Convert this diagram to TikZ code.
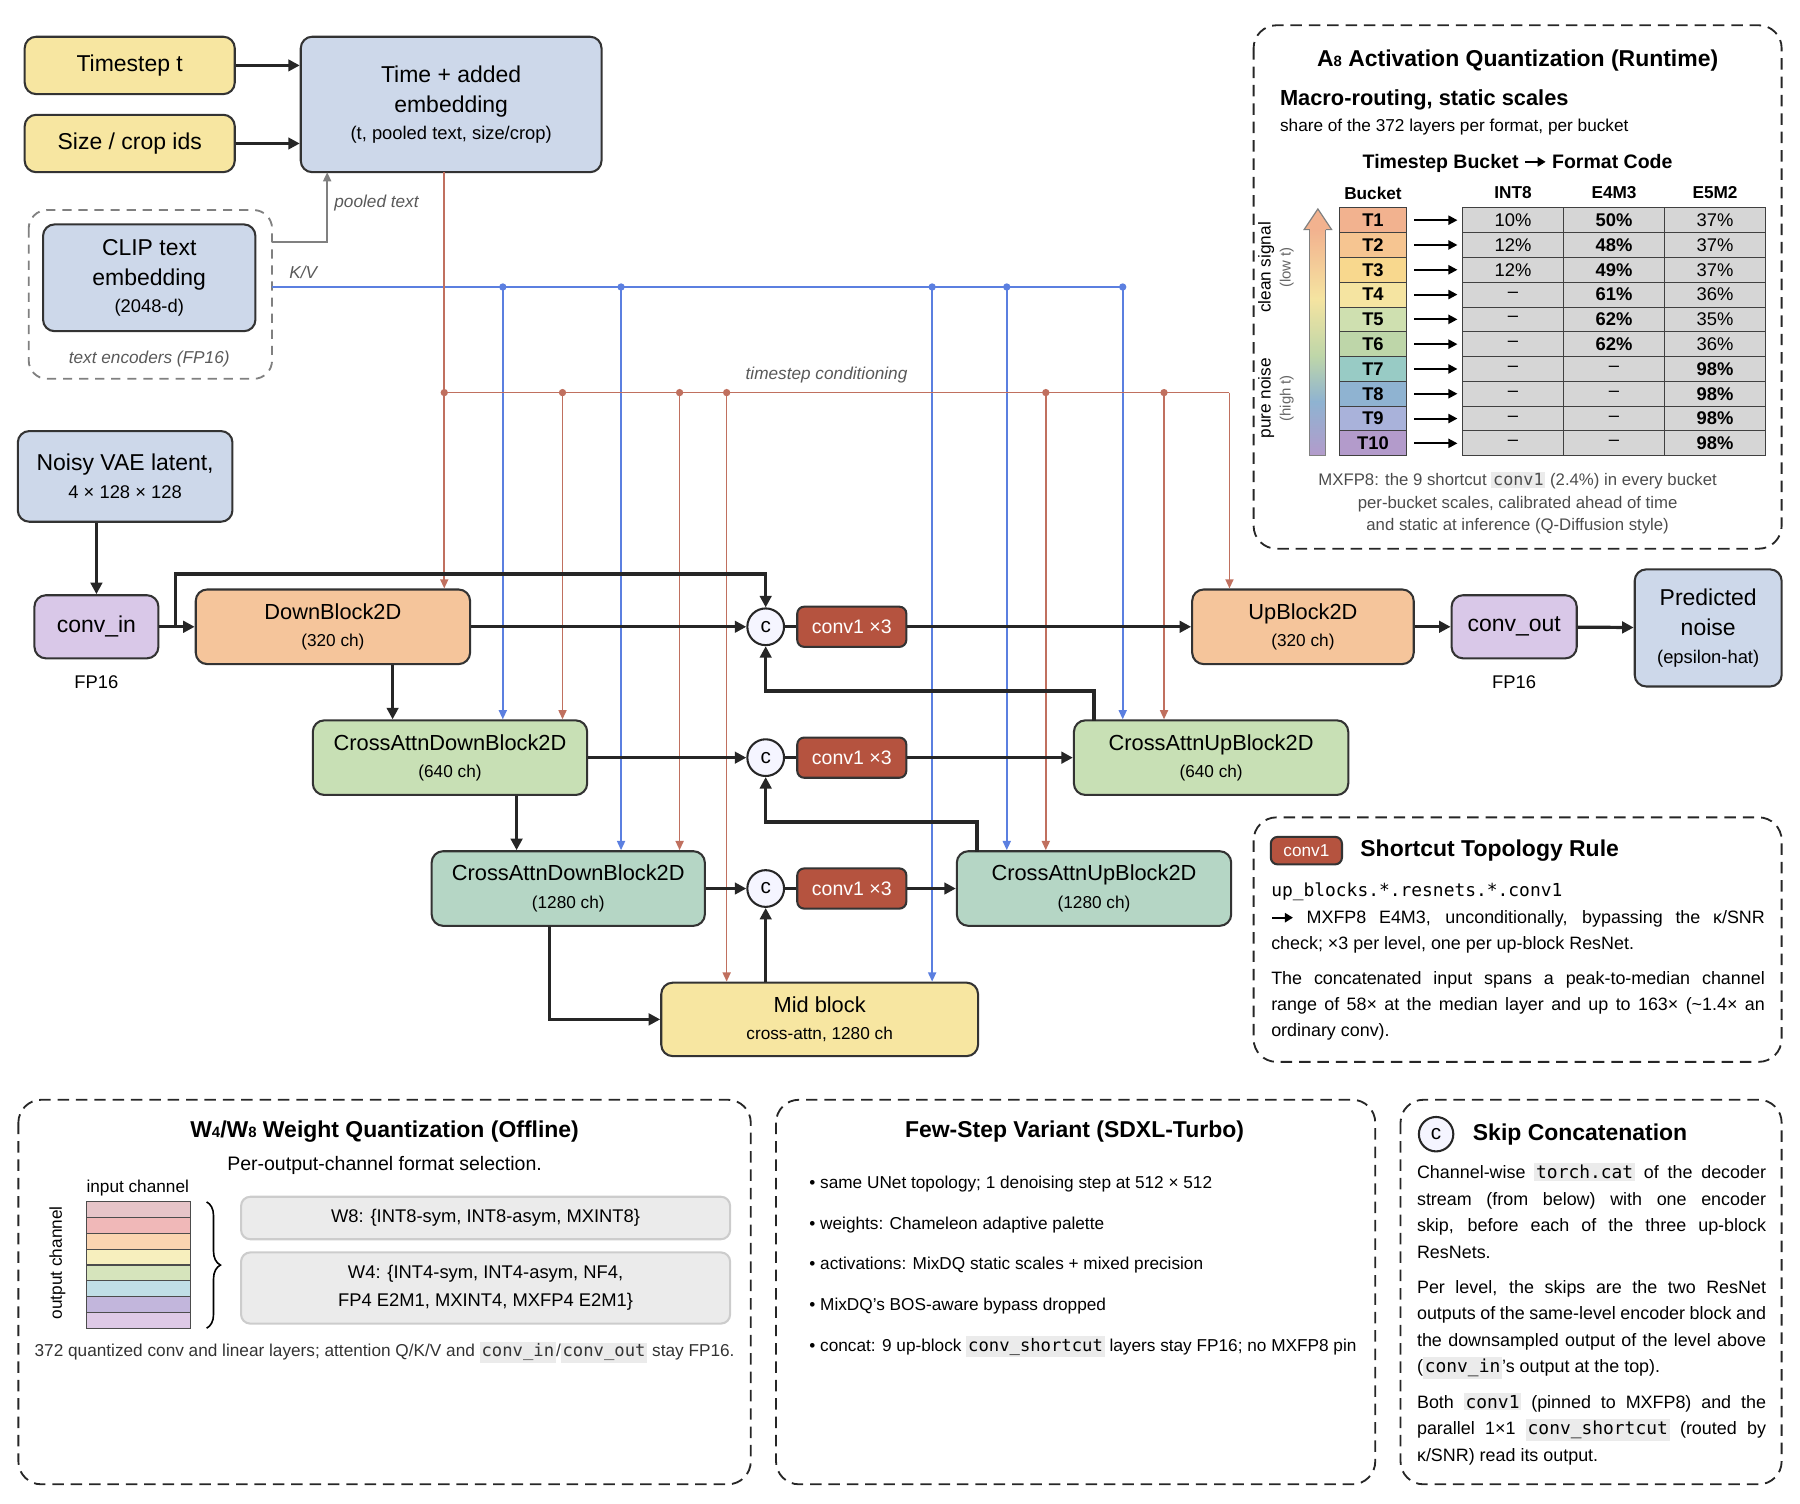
\documentclass[tikz,border=0pt]{standalone}
\usepackage{fontspec}
\setmainfont{Liberation Sans}
\setmonofont{DejaVu Sans Mono}
\usetikzlibrary{arrows.meta,decorations.pathreplacing}
\definecolor{yel}{HTML}{F7E6A1}
\definecolor{blu}{HTML}{CDD8EA}
\definecolor{pur}{HTML}{D9C8E8}
\definecolor{ora}{HTML}{F5C59B}
\definecolor{grn}{HTML}{C8E0B5}
\definecolor{tea}{HTML}{B5D6C5}
\definecolor{cred}{HTML}{B5533F}
\definecolor{tline}{HTML}{C0705F}
\definecolor{kline}{HTML}{5B7FE0}
\definecolor{t1}{HTML}{F2B28F}\definecolor{t2}{HTML}{F6C591}\definecolor{t3}{HTML}{F8D88E}
\definecolor{t4}{HTML}{F5E4A1}\definecolor{t5}{HTML}{CFE0B0}\definecolor{t6}{HTML}{BED6A9}
\definecolor{t7}{HTML}{98CBC5}\definecolor{t8}{HTML}{8FB3D1}\definecolor{t9}{HTML}{A9B2DA}
\definecolor{t10}{HTML}{B39BCB}
\newcommand\cd[1]{{\setlength{\fboxsep}{0.8pt}\colorbox{black!8}{\ttfamily #1}}}
\newcommand\rarr{\tikz[baseline=-0.6ex]\draw[line width=0.9pt,-{Triangle[length=3.5pt,width=4pt]}] (0,0) -- (9pt,0);}
\hyphenpenalty=10000 \exhyphenpenalty=10000
\begin{document}
\begin{tikzpicture}[x=0.5pt,y=-0.5pt,
 box/.style={draw=black!80,line width=0.9pt,rounded corners=5pt,align=center,inner sep=0pt},
 fa/.style={font=\fontsize{9.5}{13}\selectfont},
 fs/.style={font=\fontsize{7.5}{11}\selectfont},
 fl/.style={font=\fontsize{10}{13}\selectfont},
 blk/.style={line width=1.4pt,draw=black!85,-{Triangle[length=5pt,width=5pt]}},
 bln/.style={line width=1.4pt,draw=black!85},
 tl/.style={draw=tline,line width=0.7pt,-{Triangle[length=4pt,width=3.5pt]}},
 kl/.style={draw=kline,line width=0.7pt,-{Triangle[length=4pt,width=3.5pt]}},
 cc/.style={circle,draw=black!85,line width=0.9pt,fill=blue!4,minimum size=16pt,inner sep=0pt,font=\fontsize{9}{9}\selectfont},
 cv/.style={box,rounded corners=3pt,fill=cred,text=white,minimum width=47.5pt,minimum height=17.5pt,font=\fontsize{8.5}{10}\selectfont},
 pan/.style={draw=black!85,line width=0.8pt,dash pattern=on 5pt off 3pt,rounded corners=10pt},
 it/.style={font=\fontsize{7.5}{9}\selectfont\itshape,text=black!65},
 para/.style={anchor=north west,inner sep=0,font=\fontsize{7.8}{11.5}\selectfont,align=justify}
]
\useasboundingbox (0,0) rectangle (1568,1310);
% top-left
\node[box,fill=yel,minimum width=91.5pt,minimum height=25pt,fl] (ts) at (113,57) {Timestep t};
\node[box,fill=yel,minimum width=91.5pt,minimum height=25pt,fl] (sz) at (113,125) {Size / crop ids};
\node[box,fill=blu,minimum width=131pt,minimum height=59pt,fl] (te) at (393,91) {Time + added\\embedding\\[-1pt]{\fontsize{8}{10}\selectfont (t, pooled text, size/crop)}};
\draw[blk] (ts) -- (ts-|te.west);
\draw[blk] (sz) -- (sz-|te.west);
\draw[draw=black!50,line width=0.8pt,dash pattern=on 4pt off 3pt,rounded corners=8pt] (25,183) rectangle (237,330);
\node[box,fill=blu,minimum width=92.5pt,minimum height=46.5pt,fl] (clip) at (130,242) {CLIP text\\embedding\\[-1pt]{\fontsize{8}{10}\selectfont (2048-d)}};
\node[it] (tec) at (130,313) {text encoders (FP16)};
\coordinate (pt0) at (237,211);
\draw[draw=black!50,line width=0.8pt,-{Triangle[length=4pt,width=3.5pt]}] (pt0) -| (285,150);
\node[it] (ptl) at (328,177) {pooled text};
\node[it,anchor=west] (kvl) at (245,237) {K/V};
\node[it] (tcl) at (720,327) {timestep conditioning};
% main blocks
\node[box,fill=blu,minimum width=93.5pt,minimum height=39.5pt,fl] (vae) at (109,415) {Noisy VAE latent,\\[-1pt]{\fontsize{8}{10}\selectfont 4 × 128 × 128}};
\node[box,fill=pur,minimum width=54pt,minimum height=27.5pt,fl] (cin) at (84,546) {conv\_in};
\node[font=\fontsize{8}{10}\selectfont] (fp1) at (84,594) {FP16};
\node[box,fill=ora,minimum width=119.5pt,minimum height=32.5pt,fa] (db) at (290,546) {DownBlock2D\\[-1pt]{\fontsize{7.5}{10}\selectfont (320 ch)}};
\node[cc] (c1) at (667,546) {c};
\node[cv] (v1) at (742,546) {conv1 ×3};
\node[box,fill=ora,minimum width=96.5pt,minimum height=32.5pt,fa] (ub) at (1135,546) {UpBlock2D\\[-1pt]{\fontsize{7.5}{10}\selectfont (320 ch)}};
\node[box,fill=pur,minimum width=54.5pt,minimum height=27.5pt,fl] (cout) at (1319,546) {conv\_out};
\node[font=\fontsize{8}{10}\selectfont] (fp2) at (1319,594) {FP16};
\node[box,fill=blu,minimum width=64pt,minimum height=51pt,fl] (pn) at (1488,547) {Predicted\\noise\\[-1pt]{\fontsize{8}{10}\selectfont (epsilon-hat)}};
\node[box,fill=grn,minimum width=119.5pt,minimum height=32.5pt,fa] (cad1) at (392,660) {CrossAttnDownBlock2D\\[-1pt]{\fontsize{7.5}{10}\selectfont (640 ch)}};
\node[cc] (c2) at (667,660) {c};
\node[cv] (v2) at (742,660) {conv1 ×3};
\node[box,fill=grn,minimum width=119.5pt,minimum height=32.5pt,fa] (cau1) at (1055,660) {CrossAttnUpBlock2D\\[-1pt]{\fontsize{7.5}{10}\selectfont (640 ch)}};
\node[box,fill=tea,minimum width=119pt,minimum height=32.5pt,fa] (cad2) at (495,774) {CrossAttnDownBlock2D\\[-1pt]{\fontsize{7.5}{10}\selectfont (1280 ch)}};
\node[cc] (c3) at (667,774) {c};
\node[cv] (v3) at (742,774) {conv1 ×3};
\node[box,fill=tea,minimum width=119.5pt,minimum height=32.5pt,fa] (cau2) at (953,774) {CrossAttnUpBlock2D\\[-1pt]{\fontsize{7.5}{10}\selectfont (1280 ch)}};
\node[box,fill=yel,minimum width=138pt,minimum height=32pt,fa] (mid) at (714,888) {Mid block\\[-1pt]{\fontsize{7.5}{10}\selectfont cross-attn, 1280 ch}};
% K/V lines
\draw[draw=kline,line width=0.7pt] (pt0|-0,250) -- (978,250);
\foreach \x/\t in {438/cad1,541/cad2,812/mid,877/cau2,978/cau1}{
  \fill[kline] (\x,250) circle (1.6pt);
  \draw[kl] (\x,250) -- (\x,250 |- \t.north);}
% timestep conditioning
\draw[draw=tline,line width=0.7pt] (387,150) -- (387,342) -- (1071,342);
\foreach \x/\t in {387/db,490/cad1,592/cad2,633/mid,911/cau2,1014/cau1}{
  \fill[tline] (\x,342) circle (1.6pt);
  \draw[tl] (\x,342) -- (\x,342 |- \t.north);}
\draw[tl] (1071,342) -- (1071,342 |- ub.north);
% black flow
\draw[blk] (vae.south -| cin) -- (cin);
\draw[blk] (cin) -- (db);
\draw[blk] (153,546) -- (153,500) -| (c1.north);
\draw[blk] (db) -- (c1);
\draw[bln] (c1) -- (v1);
\draw[blk] (v1) -- (ub);
\draw[blk] (ub) -- (cout);
\draw[blk] (cout) -- (pn);
\draw[blk] (342,579) -- (342,579 |- cad1.north);
\draw[blk] (cad1) -- (c2);
\draw[bln] (c2) -- (v2);
\draw[blk] (v2) -- (cau1);
\draw[blk] (953,628) -- (953,602) -| (c1.south);
\draw[blk] (450,693) -- (450,693 |- cad2.north);
\draw[blk] (cad2) -- (c3);
\draw[bln] (c3) -- (v3);
\draw[blk] (v3) -- (cau2);
\draw[blk] (851,742) -- (851,716) -| (c2.south);
\draw[blk] (479,807) -- (479,888) -- (mid.west);
\draw[blk] (mid.north -| c3) -- (c3.south);
% A8 panel
\draw[pan] (1092,22) rectangle (1552,478);
\node[font=\fontsize{10}{12}\selectfont\bfseries] (a8t) at (1322,53) {A{\fontsize{6.5}{7}\selectfont 8} Activation Quantization (Runtime)};
\node[font=\fontsize{9.5}{12}\selectfont\bfseries,anchor=west] (a8s) at (1108,87) {Macro-routing, static scales};
\node[font=\fontsize{7.5}{10}\selectfont,anchor=west] (a8u) at (1108,111) {share of the 372 layers per format, per bucket};
\node[font=\fontsize{8.5}{10}\selectfont\bfseries] (a8h) at (1322,142) {Timestep Bucket \rarr\ Format Code};
\foreach \x/\t in {1196/Bucket,1318/INT8,1406/E4M3,1494/E5M2}
  \node[font=\fontsize{7.5}{9}\selectfont\bfseries] (h\t) at (\x,168) {\t};
\foreach \i/\a/\b/\c [count=\n] in {1/10\%/\textbf{50\%}/37\%,2/12\%/\textbf{48\%}/37\%,3/12\%/\textbf{49\%}/37\%,4/–/\textbf{61\%}/36\%,5/–/\textbf{62\%}/35\%,6/–/\textbf{62\%}/36\%,7/–/–/\textbf{98\%},8/–/–/\textbf{98\%},9/–/–/\textbf{98\%},10/–/–/\textbf{98\%}}{
  \pgfmathsetmacro\yy{181+(\n-1)*21.6+10.8}
  \node[draw=black!75,fill=t\i,minimum width=29.5pt,minimum height=10.8pt,inner sep=0,font=\fontsize{8}{9}\selectfont\bfseries] (b\i) at (1196,\yy) {T\i};
  \node[draw=black!75,fill=black!16,minimum width=44pt,minimum height=10.8pt,inner sep=0,font=\fontsize{8}{9}\selectfont] (ca\i) at (1318,\yy) {\a};
  \node[draw=black!75,fill=black!16,minimum width=44pt,minimum height=10.8pt,inner sep=0,font=\fontsize{8}{9}\selectfont] (cb\i) at (1406,\yy) {\b};
  \node[draw=black!75,fill=black!16,minimum width=44pt,minimum height=10.8pt,inner sep=0,font=\fontsize{8}{9}\selectfont] (cc\i) at (1494,\yy) {\c};
  \draw[line width=0.9pt,-{Triangle[length=4pt,width=4pt]}] ([xshift=3pt]b\i.east) -- ([xshift=-2pt]ca\i.west);
}
\shade[top color=t1,bottom color=t4] (1141,200) rectangle (1155,260);
\shade[top color=t4,bottom color=t6] (1141,260) rectangle (1155,310);
\shade[top color=t6,bottom color=t8] (1141,310) rectangle (1155,350);
\shade[top color=t8,bottom color=t10] (1141,350) rectangle (1155,397);
\draw[draw=black!50,line width=0.5pt,fill=t1] (1141,200) -- (1136,200) -- (1148,182) -- (1160,200) -- (1155,200);
\draw[draw=black!50,line width=0.5pt] (1141,200) -- (1141,397) -- (1155,397) -- (1155,200);
\node[rotate=90,font=\fontsize{7.5}{9}\selectfont] (cs) at (1103,233) {clean signal};
\node[rotate=90,font=\fontsize{6.5}{8}\selectfont,text=black!60] (lt) at (1121,233) {(low t)};
\node[rotate=90,font=\fontsize{7.5}{9}\selectfont] (pn2) at (1103,347) {pure noise};
\node[rotate=90,font=\fontsize{6.5}{8}\selectfont,text=black!60] (ht) at (1121,347) {(high t)};
\node[align=center,font=\fontsize{7.3}{9.7}\selectfont,text=black!70] (a8f) at (1322,438) {MXFP8: the 9 shortcut \cd{conv1} (2.4\%) in every bucket\\per-bucket scales, calibrated ahead of time\\and static at inference (Q-Diffusion style)};
% shortcut panel
\draw[pan] (1092,712) rectangle (1552,925);
\node[cv,minimum width=31pt,minimum height=12pt,font=\fontsize{7.5}{9}\selectfont] (chip) at (1138,741) {conv1};
\node[font=\fontsize{10}{12}\selectfont\bfseries,anchor=west] (srt) at (1178,741) {Shortcut Topology Rule};
\node[para,text width=215pt] (srb) at (1107,769) {\ttfamily up\_blocks.*.resnets.*.conv1\par\normalfont
\rarr\ MXFP8 E4M3, unconditionally, bypassing the κ/SNR \linebreak check; ×3 per level, one per up-block ResNet.\par\vspace{3.5pt}
The concatenated input spans a peak-to-median channel \linebreak range of 58× at the median layer and up to 163× (\textasciitilde1.4× an \linebreak ordinary conv).};
% W panel
\draw[pan] (16,958) rectangle (654,1293);
\node[font=\fontsize{10}{12}\selectfont\bfseries] (wt) at (335,986) {W{\fontsize{6.5}{7}\selectfont 4}/W{\fontsize{6.5}{7}\selectfont 8} Weight Quantization (Offline)};
\node[font=\fontsize{8.5}{10}\selectfont] (ws) at (335,1015) {Per-output-channel format selection.};
\node[font=\fontsize{7.5}{9}\selectfont] (ic) at (120,1035) {input channel};
\node[rotate=90,font=\fontsize{7.5}{9}\selectfont] (oc) at (50,1100) {output channel};
\foreach \c [count=\n] in {E6C4C8,F0B8B8,FBD4B0,F7EFBE,D6E4BC,C0DEE6,C2B6DC,DEC9E6}{
  \definecolor{wc}{HTML}{\c}
  \draw[fill=wc,draw=black!70,line width=0.5pt] (75,{1047+(\n-1)*13.75}) rectangle (166,{1047+\n*13.75});}
\draw[decorate,decoration={brace,amplitude=6pt},line width=0.7pt] (180,1047) -- (180,1157);
\node[box,draw=black!20,fill=black!8,rounded corners=4pt,minimum width=213pt,minimum height=18.5pt,font=\fontsize{8}{11}\selectfont] (w8) at (423,1061) {W8: \{INT8-sym, INT8-asym, MXINT8\}};
\node[box,draw=black!20,fill=black!8,rounded corners=4pt,minimum width=213pt,minimum height=31pt,font=\fontsize{8}{12}\selectfont] (w4) at (423,1122) {W4: \{INT4-sym, INT4-asym, NF4,\\FP4 E2M1, MXINT4, MXFP4 E2M1\}};
\node[font=\fontsize{7.5}{9}\selectfont,text=black!80] (wf) at (335,1178) {372 quantized conv and linear layers; attention Q/K/V and \cd{conv\_in}/\cd{conv\_out} stay FP16.};
% Few-step panel
\draw[pan] (676,958) rectangle (1198,1293);
\node[font=\fontsize{10}{12}\selectfont\bfseries] (ft) at (936,986) {Few-Step Variant (SDXL-Turbo)};
\foreach \y/\t in {1031/{same UNet topology; 1 denoising step at 512 × 512},1067/{weights: Chameleon adaptive palette},1102/{activations: MixDQ static scales + mixed precision},1138/{MixDQ's BOS-aware bypass dropped},1173/{concat: 9 up-block \cd{conv\_shortcut} layers stay FP16; no MXFP8 pin}}
  \node[anchor=west,font=\fontsize{7.5}{9}\selectfont] at (698,\y) {\textbullet\ \t};
% Skip panel
\draw[pan] (1220,958) rectangle (1552,1293);
\node[cc,minimum size=15pt] (cl) at (1251,988) {c};
\node[font=\fontsize{10}{12}\selectfont\bfseries,anchor=west] (skt) at (1276,988) {Skip Concatenation};
\node[para,text width=152pt] (skb) at (1234,1013) {Channel-wise \cd{torch.cat} of the decoder stream (from below) with one encoder \linebreak skip, before each of the three up-block \linebreak ResNets.\par\vspace{4pt}
Per level, the skips are the two ResNet outputs of the same-level encoder block and the downsampled output of the level above (\cd{conv\_in}'s output at the top).\par\vspace{4pt}
Both \cd{conv1} (pinned to MXFP8) and the parallel 1×1 \cd{conv\_shortcut} (routed by κ/SNR) read its output.};
\end{tikzpicture}
\end{document}
